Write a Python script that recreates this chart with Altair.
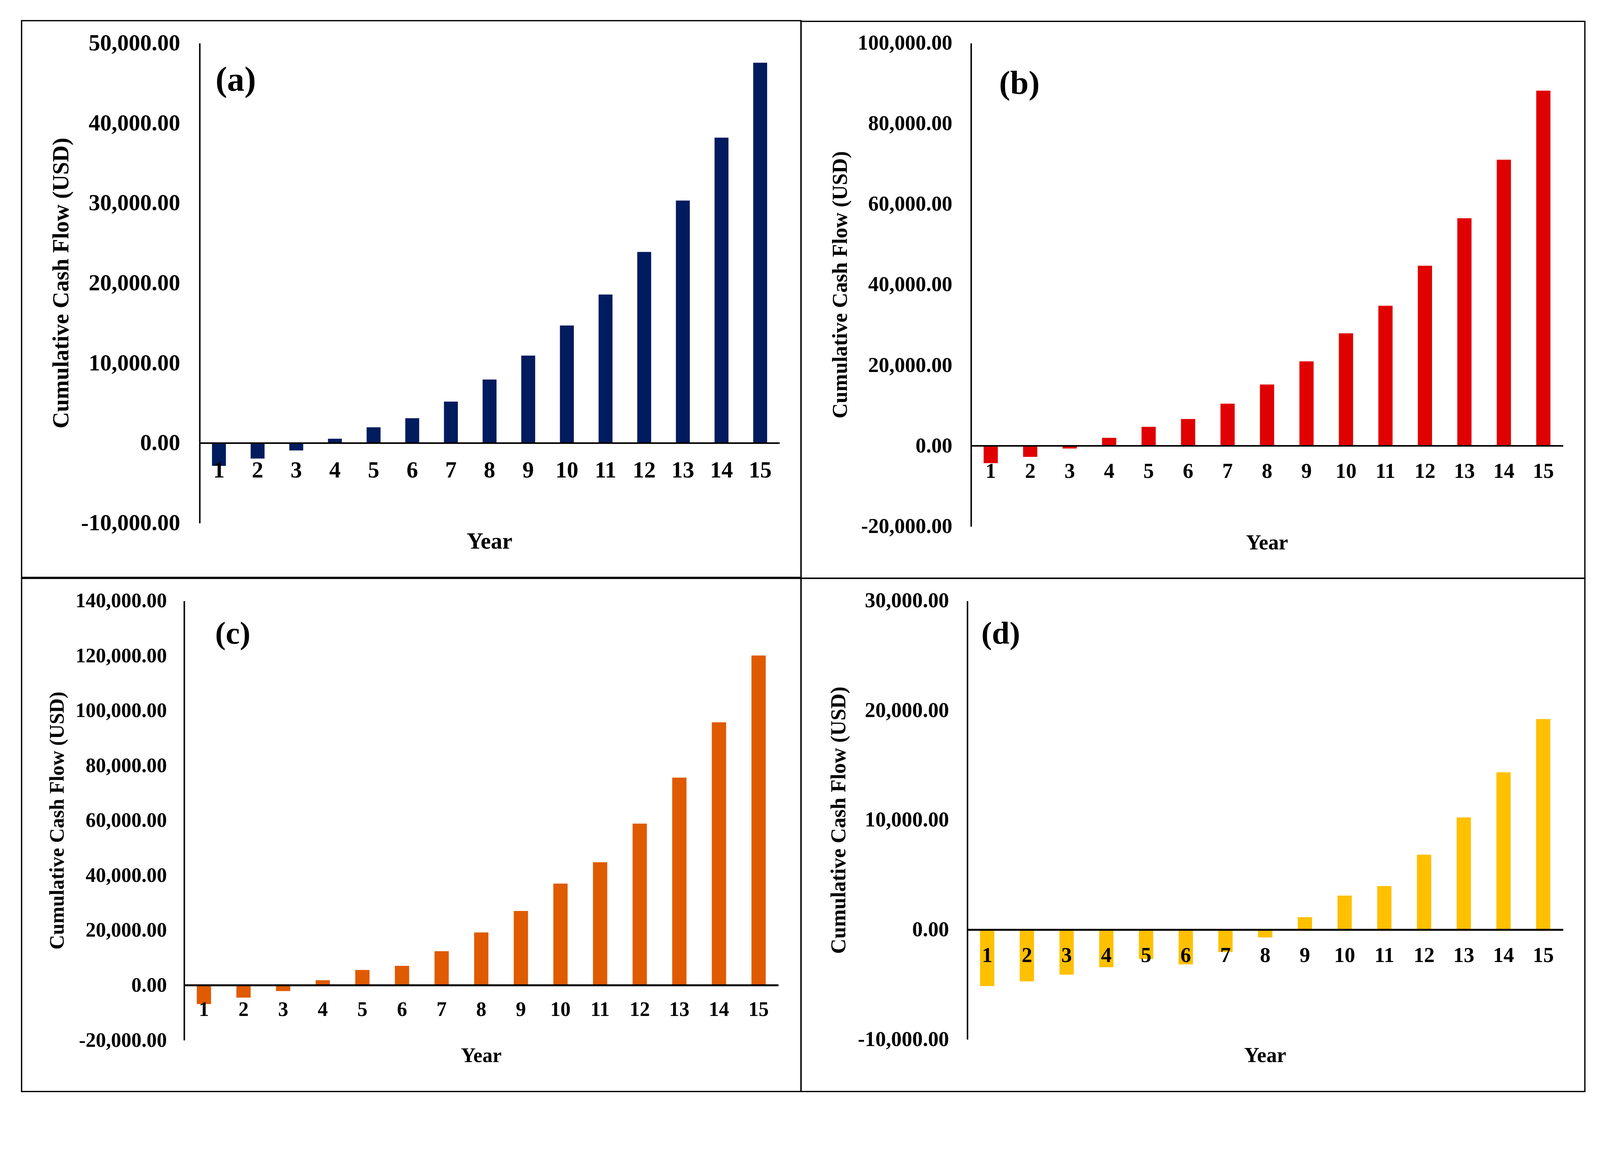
import altair as alt
import pandas as pd

years = list(range(1, 16))
cash_a = [-2850, -1930, -920, 550, 1980, 3120, 5190, 7950, 10940, 14700, 18570, 23900, 30330, 38190, 47560]
cash_b = [-4290, -2740, -640, 2010, 4750, 6670, 10500, 15250, 21000, 27950, 34790, 44750, 56530, 71050, 88220]
cash_c = [-6830, -4470, -2110, 1860, 5590, 7080, 12420, 19250, 27080, 37020, 44840, 58880, 75650, 95780, 120120]
cash_d = [-5130, -4700, -4090, -3410, -2660, -3150, -2020, -690, 1150, 3120, 3990, 6850, 10250, 14360, 19220]
panel_tags = ["(a)", "(b)", "(c)", "(d)"]
colors = ["#001B5E", "#E00000", "#E05A00", "#FFC000"]
y_title = "Cumulative Cash Flow (USD)"
x_title = "Year"

FONT = "Liberation Serif"
SW = 3.5


def panel(vals, color, ymin, ymax, step, W, H, frame, tag, tag_xy, ytitle_x, year_dy,
          shift, fs, tag_fs, lab_pad, xlab_dy):
    # shift: how far the drawn y axis sits left of the layout origin of this cell
    df = pd.DataFrame({"Year": years, "Cash": vals})
    ticks = list(range(ymin, ymax + 1, step))
    x0 = -shift
    yaxis = alt.Axis(
        title=None, values=ticks,
        labelExpr="replace(format(datum.value, ',.2f'), '\u2212', '-')",
        ticks=False, tickSize=0, grid=False, domainColor="black", domainWidth=4,
        labelPadding=lab_pad, labelFont=FONT, labelFontSize=fs, labelFontWeight="bold",
        labelColor="black", labelAlign="right", labelBaseline="middle", labelLimit=1000,
        offset=shift,
    )
    xs = alt.Scale(paddingInner=0.64, paddingOuter=0.32, range=[x0, x0 + W])
    ysc = alt.Scale(domain=[ymin, ymax], nice=False)
    base = alt.Chart(df)
    bars = base.mark_bar(color=color).encode(
        x=alt.X("Year:O", scale=xs, axis=None),
        y=alt.Y("Cash:Q", scale=ysc, axis=yaxis),
    )
    zero = base.mark_rule(color="black", strokeWidth=4).encode(
        y=alt.datum(0), x=alt.value(x0), x2=alt.value(x0 + W)
    )
    xlabels = base.mark_text(
        baseline="top", align="center", dy=xlab_dy, font=FONT, fontSize=fs,
        fontWeight="bold", color="black",
    ).encode(x=alt.X("Year:O", scale=xs), y=alt.datum(0), text="Year:N")
    one = alt.Chart(pd.DataFrame({"tag": [tag], "xt": [x_title], "yt": [y_title]}))
    l, r, t, b = frame
    box = one.mark_rect(fillOpacity=0, stroke="black", strokeWidth=SW).encode(
        x=alt.value(x0 + l), x2=alt.value(x0 + r), y=alt.value(t), y2=alt.value(b)
    )
    label = one.mark_text(
        align="left", baseline="middle", font=FONT, fontSize=tag_fs, fontWeight="bold",
        color="black",
    ).encode(x=alt.value(x0 + tag_xy[0]), y=alt.value(tag_xy[1]), text="tag:N")
    xt = one.mark_text(
        align="center", baseline="middle", font=FONT, fontSize=fs, fontWeight="bold",
        color="black",
    ).encode(x=alt.value(x0 + W / 2), y=alt.value(H + year_dy), text="xt:N")
    yt = one.mark_text(
        align="center", baseline="middle", font=FONT, fontSize=fs, fontWeight="bold",
        color="black", angle=270,
    ).encode(x=alt.value(x0 + ytitle_x), y=alt.value(H / 2), text="yt:N")
    return alt.layer(box, bars, zero, xlabels, label, xt, yt).properties(
        width=W - shift, height=H
    )


pa = panel(cash_a, colors[0], -10000, 50000, 10000, 1570, 1299, (-482, 1628, -61, 1446),
           panel_tags[0], (43, 101), -374, 50, 0, 62, 94, 53, 44)
pb = panel(cash_b, colors[1], -20000, 100000, 20000, 1603, 1308, (-460, 1662, -59, 1448),
           panel_tags[1], (76, 110), -353, 45, 0, 57, 90, 51, 42)
pc = panel(cash_c, colors[2], -20000, 140000, 20000, 1609, 1189, (-440, 1670, -61, 1328),
           panel_tags[2], (84, 90), -343, 42, 42, 55, 86, 47, 40)
pd_ = panel(cash_d, colors[3], -10000, 30000, 10000, 1613, 1187, (-450, 1672, -61, 1328),
            panel_tags[3], (38, 90), -347, 44, 10, 57, 86, 50, 42)

chart = alt.concat(
    pa, pb, pc, pd_, columns=2, spacing=-SW, bounds="full"
).properties(
    padding={"left": 48, "top": -38, "right": 30, "bottom": 30},
    background="white",
).configure_view(stroke=None)

chart.save("out.html", embed_options={"renderer": "svg", "actions": False})
